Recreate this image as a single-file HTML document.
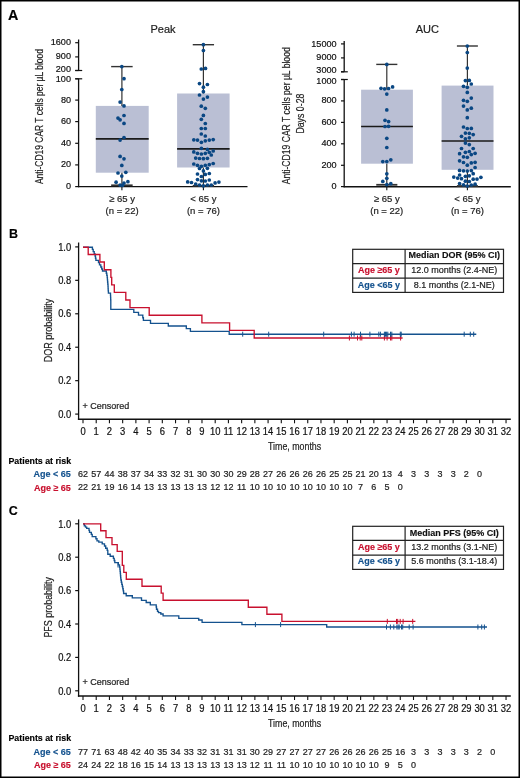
<!DOCTYPE html>
<html><head><meta charset="utf-8"><title>Figure</title>
<style>
html,body{margin:0;padding:0;background:#fff;}
body{width:520px;height:778px;overflow:hidden;}
svg{display:block;font-family:"Liberation Sans", sans-serif;will-change:transform;}
</style></head>
<body>
<svg width="520" height="778" viewBox="0 0 520 778">
<rect width="520" height="778" fill="#fff"/>
<text x="8.0" y="19.6" font-size="14.3" text-anchor="start" fill="#000" stroke="#000" stroke-width="0.15" font-weight="bold" >A</text>
<text x="163" y="33" font-size="11" text-anchor="middle" fill="#222" stroke="#222" stroke-width="0.2" >Peak</text>
<line x1="78.6" y1="39.5" x2="78.6" y2="70.5" stroke="#111" stroke-width="1.3"/>
<line x1="78.6" y1="78.8" x2="78.6" y2="187.2" stroke="#111" stroke-width="1.3"/>
<line x1="75.2" y1="70.5" x2="82.2" y2="70.5" stroke="#111" stroke-width="1.2"/>
<line x1="75.2" y1="78.8" x2="82.2" y2="78.8" stroke="#111" stroke-width="1.2"/>
<line x1="75.2" y1="42.7" x2="78.6" y2="42.7" stroke="#111" stroke-width="1.2"/>
<text x="71.0" y="45.2" font-size="9.6" text-anchor="end" fill="#111" stroke="#111" stroke-width="0.2" textLength="20.24" lengthAdjust="spacingAndGlyphs" >1600</text>
<line x1="75.2" y1="56.9" x2="78.6" y2="56.9" stroke="#111" stroke-width="1.2"/>
<text x="71.0" y="59.4" font-size="9.6" text-anchor="end" fill="#111" stroke="#111" stroke-width="0.2" textLength="15.18" lengthAdjust="spacingAndGlyphs" >900</text>
<line x1="75.2" y1="70.5" x2="78.6" y2="70.5" stroke="#111" stroke-width="1.2"/>
<text x="71.0" y="71.5" font-size="9.6" text-anchor="end" fill="#111" stroke="#111" stroke-width="0.2" textLength="15.18" lengthAdjust="spacingAndGlyphs" >200</text>
<line x1="75.2" y1="78.8" x2="78.6" y2="78.8" stroke="#111" stroke-width="1.2"/>
<text x="71.0" y="82.3" font-size="9.6" text-anchor="end" fill="#111" stroke="#111" stroke-width="0.2" textLength="15.18" lengthAdjust="spacingAndGlyphs" >100</text>
<line x1="75.2" y1="100.1" x2="78.6" y2="100.1" stroke="#111" stroke-width="1.2"/>
<text x="71.0" y="102.6" font-size="9.6" text-anchor="end" fill="#111" stroke="#111" stroke-width="0.2" textLength="10.12" lengthAdjust="spacingAndGlyphs" >80</text>
<line x1="75.2" y1="121.6" x2="78.6" y2="121.6" stroke="#111" stroke-width="1.2"/>
<text x="71.0" y="124.1" font-size="9.6" text-anchor="end" fill="#111" stroke="#111" stroke-width="0.2" textLength="10.12" lengthAdjust="spacingAndGlyphs" >60</text>
<line x1="75.2" y1="143.3" x2="78.6" y2="143.3" stroke="#111" stroke-width="1.2"/>
<text x="71.0" y="145.8" font-size="9.6" text-anchor="end" fill="#111" stroke="#111" stroke-width="0.2" textLength="10.12" lengthAdjust="spacingAndGlyphs" >40</text>
<line x1="75.2" y1="164.9" x2="78.6" y2="164.9" stroke="#111" stroke-width="1.2"/>
<text x="71.0" y="167.4" font-size="9.6" text-anchor="end" fill="#111" stroke="#111" stroke-width="0.2" textLength="10.12" lengthAdjust="spacingAndGlyphs" >20</text>
<line x1="75.2" y1="186.6" x2="78.6" y2="186.6" stroke="#111" stroke-width="1.2"/>
<text x="71.0" y="189.1" font-size="9.6" text-anchor="end" fill="#111" stroke="#111" stroke-width="0.2" textLength="5.06" lengthAdjust="spacingAndGlyphs" >0</text>
<line x1="78.0" y1="186.6" x2="247.5" y2="186.6" stroke="#111" stroke-width="1.4"/>
<line x1="121.9" y1="186.6" x2="121.9" y2="190.2" stroke="#111" stroke-width="1.1"/>
<line x1="203.4" y1="186.6" x2="203.4" y2="190.2" stroke="#111" stroke-width="1.1"/>
<text x="43.5" y="116.6" font-size="10.5" text-anchor="middle" fill="#222" stroke="#222" stroke-width="0.2" textLength="135" lengthAdjust="spacingAndGlyphs" transform="rotate(-90 43.5 116.6)" >Anti-CD19 CAR T cells per µL blood</text>
<text x="122.1" y="201.7" font-size="9.5" text-anchor="middle" fill="#222" stroke="#222" stroke-width="0.2" >≥ 65 y</text>
<text x="122.1" y="213.5" font-size="9.5" text-anchor="middle" fill="#222" stroke="#222" stroke-width="0.2" >(n = 22)</text>
<text x="203.4" y="201.7" font-size="9.5" text-anchor="middle" fill="#222" stroke="#222" stroke-width="0.2" >&lt; 65 y</text>
<text x="203.4" y="213.5" font-size="9.5" text-anchor="middle" fill="#222" stroke="#222" stroke-width="0.2" >(n = 76)</text>
<rect x="95.8" y="105.9" width="52.89999999999999" height="66.79999999999998" fill="#babfd4"/>
<line x1="121.9" y1="66.6" x2="121.9" y2="105.9" stroke="#333" stroke-width="1.2"/>
<line x1="121.9" y1="172.7" x2="121.9" y2="185.3" stroke="#333" stroke-width="1.2"/>
<line x1="111.15" y1="66.6" x2="132.65" y2="66.6" stroke="#333" stroke-width="1.4"/>
<line x1="111.15" y1="185.3" x2="132.65" y2="185.3" stroke="#333" stroke-width="1.8"/>
<line x1="95.8" y1="138.9" x2="148.7" y2="138.9" stroke="#1a1a1a" stroke-width="1.6"/>
<circle cx="121.8" cy="66.6" r="1.85" fill="#0a4783"/>
<circle cx="124.0" cy="78.7" r="1.85" fill="#0a4783"/>
<circle cx="121.8" cy="89.5" r="1.85" fill="#0a4783"/>
<circle cx="120.1" cy="102.1" r="1.85" fill="#0a4783"/>
<circle cx="124.0" cy="105.9" r="1.85" fill="#0a4783"/>
<circle cx="118" cy="118.1" r="1.85" fill="#0a4783"/>
<circle cx="120.1" cy="119.8" r="1.85" fill="#0a4783"/>
<circle cx="124" cy="115.5" r="1.85" fill="#0a4783"/>
<circle cx="124" cy="123.4" r="1.85" fill="#0a4783"/>
<circle cx="124" cy="137.5" r="1.85" fill="#0a4783"/>
<circle cx="120.1" cy="140.1" r="1.85" fill="#0a4783"/>
<circle cx="120.1" cy="156.4" r="1.85" fill="#0a4783"/>
<circle cx="124" cy="158.8" r="1.85" fill="#0a4783"/>
<circle cx="121.8" cy="165.4" r="1.85" fill="#0a4783"/>
<circle cx="118" cy="173" r="1.85" fill="#0a4783"/>
<circle cx="125.8" cy="172.3" r="1.85" fill="#0a4783"/>
<circle cx="121.8" cy="176.1" r="1.85" fill="#0a4783"/>
<circle cx="116.1" cy="182.2" r="1.85" fill="#0a4783"/>
<circle cx="124" cy="183" r="1.85" fill="#0a4783"/>
<circle cx="127.9" cy="181.7" r="1.85" fill="#0a4783"/>
<circle cx="120.1" cy="185.1" r="1.85" fill="#0a4783"/>
<circle cx="122.5" cy="185.3" r="1.85" fill="#0a4783"/>
<rect x="177.1" y="93.5" width="52.5" height="74.0" fill="#babfd4"/>
<line x1="203.4" y1="44.7" x2="203.4" y2="93.5" stroke="#333" stroke-width="1.2"/>
<line x1="203.4" y1="167.5" x2="203.4" y2="185.8" stroke="#333" stroke-width="1.2"/>
<line x1="192.75" y1="44.7" x2="214.05" y2="44.7" stroke="#333" stroke-width="1.4"/>
<line x1="192.75" y1="185.8" x2="214.05" y2="185.8" stroke="#333" stroke-width="1.8"/>
<line x1="177.1" y1="148.9" x2="229.6" y2="148.9" stroke="#1a1a1a" stroke-width="1.6"/>
<circle cx="203.4" cy="44.7" r="1.85" fill="#0a4783"/>
<circle cx="203.4" cy="50.5" r="1.85" fill="#0a4783"/>
<circle cx="201.3" cy="69.0" r="1.85" fill="#0a4783"/>
<circle cx="205.5" cy="68.4" r="1.85" fill="#0a4783"/>
<circle cx="199.5" cy="83.6" r="1.85" fill="#0a4783"/>
<circle cx="207.4" cy="84.5" r="1.85" fill="#0a4783"/>
<circle cx="203.4" cy="87.2" r="1.85" fill="#0a4783"/>
<circle cx="203.4" cy="91.7" r="1.85" fill="#0a4783"/>
<circle cx="199.5" cy="95.0" r="1.85" fill="#0a4783"/>
<circle cx="207.4" cy="97.1" r="1.85" fill="#0a4783"/>
<circle cx="203.4" cy="99.1" r="1.85" fill="#0a4783"/>
<circle cx="201.3" cy="106.2" r="1.85" fill="#0a4783"/>
<circle cx="205.3" cy="108.3" r="1.85" fill="#0a4783"/>
<circle cx="203.4" cy="115.4" r="1.85" fill="#0a4783"/>
<circle cx="201.3" cy="119.3" r="1.85" fill="#0a4783"/>
<circle cx="205.3" cy="123.5" r="1.85" fill="#0a4783"/>
<circle cx="201.3" cy="128.5" r="1.85" fill="#0a4783"/>
<circle cx="205.3" cy="128.5" r="1.85" fill="#0a4783"/>
<circle cx="201.3" cy="134.0" r="1.85" fill="#0a4783"/>
<circle cx="205.3" cy="136.0" r="1.85" fill="#0a4783"/>
<circle cx="193.8" cy="139.8" r="1.85" fill="#0a4783"/>
<circle cx="197.5" cy="140.1" r="1.85" fill="#0a4783"/>
<circle cx="201.4" cy="142.3" r="1.85" fill="#0a4783"/>
<circle cx="205.3" cy="140.8" r="1.85" fill="#0a4783"/>
<circle cx="209.3" cy="140.1" r="1.85" fill="#0a4783"/>
<circle cx="213.2" cy="139.6" r="1.85" fill="#0a4783"/>
<circle cx="201.4" cy="148.3" r="1.85" fill="#0a4783"/>
<circle cx="207.4" cy="149.4" r="1.85" fill="#0a4783"/>
<circle cx="213.2" cy="151.0" r="1.85" fill="#0a4783"/>
<circle cx="193.8" cy="151.9" r="1.85" fill="#0a4783"/>
<circle cx="209.3" cy="152.3" r="1.85" fill="#0a4783"/>
<circle cx="197.5" cy="153.3" r="1.85" fill="#0a4783"/>
<circle cx="201.4" cy="154.0" r="1.85" fill="#0a4783"/>
<circle cx="205.3" cy="153.3" r="1.85" fill="#0a4783"/>
<circle cx="211.3" cy="155.0" r="1.85" fill="#0a4783"/>
<circle cx="195.7" cy="158.1" r="1.85" fill="#0a4783"/>
<circle cx="199.5" cy="158.5" r="1.85" fill="#0a4783"/>
<circle cx="203.4" cy="158.7" r="1.85" fill="#0a4783"/>
<circle cx="207.4" cy="158.3" r="1.85" fill="#0a4783"/>
<circle cx="193.8" cy="164.0" r="1.85" fill="#0a4783"/>
<circle cx="197.5" cy="165.3" r="1.85" fill="#0a4783"/>
<circle cx="201.4" cy="166.3" r="1.85" fill="#0a4783"/>
<circle cx="205.3" cy="165.3" r="1.85" fill="#0a4783"/>
<circle cx="209.3" cy="164.6" r="1.85" fill="#0a4783"/>
<circle cx="213.2" cy="163.5" r="1.85" fill="#0a4783"/>
<circle cx="199.5" cy="168.5" r="1.85" fill="#0a4783"/>
<circle cx="207.4" cy="168.3" r="1.85" fill="#0a4783"/>
<circle cx="203.4" cy="170.9" r="1.85" fill="#0a4783"/>
<circle cx="197.5" cy="174.0" r="1.85" fill="#0a4783"/>
<circle cx="205.3" cy="174.4" r="1.85" fill="#0a4783"/>
<circle cx="209.3" cy="173.5" r="1.85" fill="#0a4783"/>
<circle cx="201.4" cy="176.5" r="1.85" fill="#0a4783"/>
<circle cx="197.5" cy="179.6" r="1.85" fill="#0a4783"/>
<circle cx="201.4" cy="180.8" r="1.85" fill="#0a4783"/>
<circle cx="205.3" cy="181.0" r="1.85" fill="#0a4783"/>
<circle cx="209.3" cy="180.0" r="1.85" fill="#0a4783"/>
<circle cx="187.7" cy="181.9" r="1.85" fill="#0a4783"/>
<circle cx="191.5" cy="182.5" r="1.85" fill="#0a4783"/>
<circle cx="195.7" cy="184.0" r="1.85" fill="#0a4783"/>
<circle cx="199.5" cy="185.0" r="1.85" fill="#0a4783"/>
<circle cx="203.4" cy="185.8" r="1.85" fill="#0a4783"/>
<circle cx="207.4" cy="185.0" r="1.85" fill="#0a4783"/>
<circle cx="211.3" cy="185.0" r="1.85" fill="#0a4783"/>
<circle cx="215.1" cy="182.9" r="1.85" fill="#0a4783"/>
<circle cx="218.9" cy="182.1" r="1.85" fill="#0a4783"/>
<text x="427.3" y="33" font-size="11" text-anchor="middle" fill="#222" stroke="#222" stroke-width="0.2" >AUC</text>
<line x1="344.2" y1="40.9" x2="344.2" y2="71.8" stroke="#111" stroke-width="1.3"/>
<line x1="344.2" y1="79.5" x2="344.2" y2="187.2" stroke="#111" stroke-width="1.3"/>
<line x1="341" y1="71.8" x2="347.8" y2="71.8" stroke="#111" stroke-width="1.2"/>
<line x1="341" y1="79.5" x2="347.8" y2="79.5" stroke="#111" stroke-width="1.2"/>
<line x1="341" y1="43.9" x2="344.2" y2="43.9" stroke="#111" stroke-width="1.2"/>
<text x="336.6" y="46.5" font-size="9.6" text-anchor="end" fill="#111" stroke="#111" stroke-width="0.2" textLength="25.3" lengthAdjust="spacingAndGlyphs" >15000</text>
<line x1="341" y1="57.9" x2="344.2" y2="57.9" stroke="#111" stroke-width="1.2"/>
<text x="336.6" y="60.4" font-size="9.6" text-anchor="end" fill="#111" stroke="#111" stroke-width="0.2" textLength="20.24" lengthAdjust="spacingAndGlyphs" >9000</text>
<line x1="341" y1="71.8" x2="344.2" y2="71.8" stroke="#111" stroke-width="1.2"/>
<text x="336.6" y="72.6" font-size="9.6" text-anchor="end" fill="#111" stroke="#111" stroke-width="0.2" textLength="20.24" lengthAdjust="spacingAndGlyphs" >3000</text>
<line x1="341" y1="79.5" x2="344.2" y2="79.5" stroke="#111" stroke-width="1.2"/>
<text x="336.6" y="83.5" font-size="9.6" text-anchor="end" fill="#111" stroke="#111" stroke-width="0.2" textLength="20.24" lengthAdjust="spacingAndGlyphs" >1000</text>
<line x1="341" y1="100.9" x2="344.2" y2="100.9" stroke="#111" stroke-width="1.2"/>
<text x="336.6" y="103.4" font-size="9.6" text-anchor="end" fill="#111" stroke="#111" stroke-width="0.2" textLength="15.18" lengthAdjust="spacingAndGlyphs" >800</text>
<line x1="341" y1="122.4" x2="344.2" y2="122.4" stroke="#111" stroke-width="1.2"/>
<text x="336.6" y="124.9" font-size="9.6" text-anchor="end" fill="#111" stroke="#111" stroke-width="0.2" textLength="15.18" lengthAdjust="spacingAndGlyphs" >600</text>
<line x1="341" y1="143.8" x2="344.2" y2="143.8" stroke="#111" stroke-width="1.2"/>
<text x="336.6" y="146.3" font-size="9.6" text-anchor="end" fill="#111" stroke="#111" stroke-width="0.2" textLength="15.18" lengthAdjust="spacingAndGlyphs" >400</text>
<line x1="341" y1="165.3" x2="344.2" y2="165.3" stroke="#111" stroke-width="1.2"/>
<text x="336.6" y="167.8" font-size="9.6" text-anchor="end" fill="#111" stroke="#111" stroke-width="0.2" textLength="15.18" lengthAdjust="spacingAndGlyphs" >200</text>
<line x1="341" y1="186.6" x2="344.2" y2="186.6" stroke="#111" stroke-width="1.2"/>
<text x="336.6" y="189.1" font-size="9.6" text-anchor="end" fill="#111" stroke="#111" stroke-width="0.2" textLength="5.06" lengthAdjust="spacingAndGlyphs" >0</text>
<line x1="343.59999999999997" y1="186.7" x2="510.8" y2="186.7" stroke="#111" stroke-width="1.4"/>
<line x1="386.8" y1="186.7" x2="386.8" y2="190.2" stroke="#111" stroke-width="1.1"/>
<line x1="467.4" y1="186.7" x2="467.4" y2="190.2" stroke="#111" stroke-width="1.1"/>
<text x="290.4" y="115.8" font-size="10.5" text-anchor="middle" fill="#222" stroke="#222" stroke-width="0.2" textLength="137" lengthAdjust="spacingAndGlyphs" transform="rotate(-90 290.4 115.8)" >Anti-CD19 CAR T cells per µL blood</text>
<text x="303.6" y="113.6" font-size="10.5" text-anchor="middle" fill="#222" stroke="#222" stroke-width="0.2" textLength="40" lengthAdjust="spacingAndGlyphs" transform="rotate(-90 303.6 113.6)" >Days 0-28</text>
<text x="386.8" y="201.7" font-size="9.5" text-anchor="middle" fill="#222" stroke="#222" stroke-width="0.2" >≥ 65 y</text>
<text x="386.8" y="213.5" font-size="9.5" text-anchor="middle" fill="#222" stroke="#222" stroke-width="0.2" >(n = 22)</text>
<text x="467.4" y="201.7" font-size="9.5" text-anchor="middle" fill="#222" stroke="#222" stroke-width="0.2" >&lt; 65 y</text>
<text x="467.4" y="213.5" font-size="9.5" text-anchor="middle" fill="#222" stroke="#222" stroke-width="0.2" >(n = 76)</text>
<rect x="361.1" y="89.7" width="51.799999999999955" height="73.99999999999999" fill="#babfd4"/>
<line x1="386.8" y1="64.4" x2="386.8" y2="89.7" stroke="#333" stroke-width="1.2"/>
<line x1="386.8" y1="163.7" x2="386.8" y2="184.8" stroke="#333" stroke-width="1.2"/>
<line x1="376.25" y1="64.4" x2="397.35" y2="64.4" stroke="#333" stroke-width="1.4"/>
<line x1="376.25" y1="184.8" x2="397.35" y2="184.8" stroke="#333" stroke-width="1.8"/>
<line x1="361.1" y1="126.5" x2="412.9" y2="126.5" stroke="#1a1a1a" stroke-width="1.6"/>
<circle cx="386.8" cy="64.4" r="1.85" fill="#0a4783"/>
<circle cx="381.0" cy="88.3" r="1.85" fill="#0a4783"/>
<circle cx="384.6" cy="88.8" r="1.85" fill="#0a4783"/>
<circle cx="388.6" cy="88.5" r="1.85" fill="#0a4783"/>
<circle cx="392.6" cy="86.9" r="1.85" fill="#0a4783"/>
<circle cx="386.8" cy="94.1" r="1.85" fill="#0a4783"/>
<circle cx="386.8" cy="109.9" r="1.85" fill="#0a4783"/>
<circle cx="385.0" cy="120.3" r="1.85" fill="#0a4783"/>
<circle cx="388.6" cy="121.6" r="1.85" fill="#0a4783"/>
<circle cx="385.0" cy="126.5" r="1.85" fill="#0a4783"/>
<circle cx="388.6" cy="126.3" r="1.85" fill="#0a4783"/>
<circle cx="386.8" cy="138.3" r="1.85" fill="#0a4783"/>
<circle cx="386.8" cy="147.5" r="1.85" fill="#0a4783"/>
<circle cx="382.8" cy="161.6" r="1.85" fill="#0a4783"/>
<circle cx="386.8" cy="161.6" r="1.85" fill="#0a4783"/>
<circle cx="390.8" cy="159.8" r="1.85" fill="#0a4783"/>
<circle cx="386.8" cy="173.8" r="1.85" fill="#0a4783"/>
<circle cx="386.8" cy="178.3" r="1.85" fill="#0a4783"/>
<circle cx="382.8" cy="181.4" r="1.85" fill="#0a4783"/>
<circle cx="390.8" cy="183.7" r="1.85" fill="#0a4783"/>
<circle cx="386.8" cy="184.6" r="1.85" fill="#0a4783"/>
<rect x="441.6" y="85.6" width="51.89999999999998" height="84.20000000000002" fill="#babfd4"/>
<line x1="467.4" y1="46.0" x2="467.4" y2="85.6" stroke="#333" stroke-width="1.2"/>
<line x1="467.4" y1="169.8" x2="467.4" y2="186.0" stroke="#333" stroke-width="1.2"/>
<line x1="456.9" y1="46.0" x2="477.9" y2="46.0" stroke="#333" stroke-width="1.4"/>
<line x1="456.9" y1="186.0" x2="477.9" y2="186.0" stroke="#333" stroke-width="1.8"/>
<line x1="441.6" y1="141.0" x2="493.5" y2="141.0" stroke="#1a1a1a" stroke-width="1.6"/>
<circle cx="467.3" cy="46.0" r="1.85" fill="#0a4783"/>
<circle cx="467.3" cy="52.5" r="1.85" fill="#0a4783"/>
<circle cx="467.3" cy="68.1" r="1.85" fill="#0a4783"/>
<circle cx="465.4" cy="80.6" r="1.85" fill="#0a4783"/>
<circle cx="469.3" cy="80.4" r="1.85" fill="#0a4783"/>
<circle cx="471.3" cy="84.0" r="1.85" fill="#0a4783"/>
<circle cx="463.5" cy="86.3" r="1.85" fill="#0a4783"/>
<circle cx="467.3" cy="87.3" r="1.85" fill="#0a4783"/>
<circle cx="467.3" cy="92.4" r="1.85" fill="#0a4783"/>
<circle cx="471.3" cy="98.1" r="1.85" fill="#0a4783"/>
<circle cx="463.5" cy="100.3" r="1.85" fill="#0a4783"/>
<circle cx="467.3" cy="101.3" r="1.85" fill="#0a4783"/>
<circle cx="463.5" cy="106.1" r="1.85" fill="#0a4783"/>
<circle cx="471.3" cy="108.2" r="1.85" fill="#0a4783"/>
<circle cx="467.3" cy="109.9" r="1.85" fill="#0a4783"/>
<circle cx="467.3" cy="117.7" r="1.85" fill="#0a4783"/>
<circle cx="463.5" cy="127.0" r="1.85" fill="#0a4783"/>
<circle cx="467.3" cy="128.5" r="1.85" fill="#0a4783"/>
<circle cx="471.3" cy="128.4" r="1.85" fill="#0a4783"/>
<circle cx="465.4" cy="133.1" r="1.85" fill="#0a4783"/>
<circle cx="469.3" cy="133.3" r="1.85" fill="#0a4783"/>
<circle cx="473.2" cy="134.6" r="1.85" fill="#0a4783"/>
<circle cx="461.5" cy="136.3" r="1.85" fill="#0a4783"/>
<circle cx="465.4" cy="138.8" r="1.85" fill="#0a4783"/>
<circle cx="469.3" cy="137.8" r="1.85" fill="#0a4783"/>
<circle cx="465.4" cy="143.1" r="1.85" fill="#0a4783"/>
<circle cx="469.3" cy="144.6" r="1.85" fill="#0a4783"/>
<circle cx="461.5" cy="148.5" r="1.85" fill="#0a4783"/>
<circle cx="473.2" cy="148.5" r="1.85" fill="#0a4783"/>
<circle cx="465.4" cy="152.3" r="1.85" fill="#0a4783"/>
<circle cx="469.3" cy="151.5" r="1.85" fill="#0a4783"/>
<circle cx="459.6" cy="153.7" r="1.85" fill="#0a4783"/>
<circle cx="471.3" cy="154.6" r="1.85" fill="#0a4783"/>
<circle cx="475.1" cy="153.3" r="1.85" fill="#0a4783"/>
<circle cx="463.5" cy="156.8" r="1.85" fill="#0a4783"/>
<circle cx="467.3" cy="157.3" r="1.85" fill="#0a4783"/>
<circle cx="459.6" cy="160.8" r="1.85" fill="#0a4783"/>
<circle cx="463.5" cy="162.5" r="1.85" fill="#0a4783"/>
<circle cx="471.3" cy="162.9" r="1.85" fill="#0a4783"/>
<circle cx="475.1" cy="162.3" r="1.85" fill="#0a4783"/>
<circle cx="467.3" cy="165.2" r="1.85" fill="#0a4783"/>
<circle cx="475.1" cy="167.5" r="1.85" fill="#0a4783"/>
<circle cx="459.6" cy="170.4" r="1.85" fill="#0a4783"/>
<circle cx="463.5" cy="170.8" r="1.85" fill="#0a4783"/>
<circle cx="467.3" cy="171.0" r="1.85" fill="#0a4783"/>
<circle cx="471.3" cy="170.6" r="1.85" fill="#0a4783"/>
<circle cx="473.2" cy="173.7" r="1.85" fill="#0a4783"/>
<circle cx="459.6" cy="175.0" r="1.85" fill="#0a4783"/>
<circle cx="465.4" cy="176.3" r="1.85" fill="#0a4783"/>
<circle cx="469.3" cy="175.8" r="1.85" fill="#0a4783"/>
<circle cx="453.8" cy="177.1" r="1.85" fill="#0a4783"/>
<circle cx="457.7" cy="178.1" r="1.85" fill="#0a4783"/>
<circle cx="461.5" cy="178.7" r="1.85" fill="#0a4783"/>
<circle cx="473.2" cy="179.2" r="1.85" fill="#0a4783"/>
<circle cx="477.0" cy="179.1" r="1.85" fill="#0a4783"/>
<circle cx="480.9" cy="177.3" r="1.85" fill="#0a4783"/>
<circle cx="465.4" cy="181.2" r="1.85" fill="#0a4783"/>
<circle cx="469.3" cy="181.5" r="1.85" fill="#0a4783"/>
<circle cx="459.6" cy="183.5" r="1.85" fill="#0a4783"/>
<circle cx="463.5" cy="184.8" r="1.85" fill="#0a4783"/>
<circle cx="467.3" cy="186.0" r="1.85" fill="#0a4783"/>
<circle cx="471.3" cy="185.0" r="1.85" fill="#0a4783"/>
<circle cx="475.1" cy="184.2" r="1.85" fill="#0a4783"/>
<text x="9.0" y="238.2" font-size="12.5" text-anchor="start" fill="#000" stroke="#000" stroke-width="0.15" font-weight="bold" >B</text>
<line x1="78.6" y1="242.5" x2="78.6" y2="420.0" stroke="#111" stroke-width="1.3"/>
<line x1="75.2" y1="414.1" x2="78.6" y2="414.1" stroke="#111" stroke-width="1.2"/>
<text x="71.2" y="417.8" font-size="10.0" text-anchor="end" fill="#111" stroke="#111" stroke-width="0.2" textLength="13.07" lengthAdjust="spacingAndGlyphs" >0.0</text>
<line x1="75.2" y1="380.66" x2="78.6" y2="380.66" stroke="#111" stroke-width="1.2"/>
<text x="71.2" y="384.36" font-size="10.0" text-anchor="end" fill="#111" stroke="#111" stroke-width="0.2" textLength="13.07" lengthAdjust="spacingAndGlyphs" >0.2</text>
<line x1="75.2" y1="347.22" x2="78.6" y2="347.22" stroke="#111" stroke-width="1.2"/>
<text x="71.2" y="350.92" font-size="10.0" text-anchor="end" fill="#111" stroke="#111" stroke-width="0.2" textLength="13.07" lengthAdjust="spacingAndGlyphs" >0.4</text>
<line x1="75.2" y1="313.78" x2="78.6" y2="313.78" stroke="#111" stroke-width="1.2"/>
<text x="71.2" y="317.47999999999996" font-size="10.0" text-anchor="end" fill="#111" stroke="#111" stroke-width="0.2" textLength="13.07" lengthAdjust="spacingAndGlyphs" >0.6</text>
<line x1="75.2" y1="280.34000000000003" x2="78.6" y2="280.34000000000003" stroke="#111" stroke-width="1.2"/>
<text x="71.2" y="284.04" font-size="10.0" text-anchor="end" fill="#111" stroke="#111" stroke-width="0.2" textLength="13.07" lengthAdjust="spacingAndGlyphs" >0.8</text>
<line x1="75.2" y1="246.9" x2="78.6" y2="246.9" stroke="#111" stroke-width="1.2"/>
<text x="71.2" y="250.6" font-size="10.0" text-anchor="end" fill="#111" stroke="#111" stroke-width="0.2" textLength="13.07" lengthAdjust="spacingAndGlyphs" >1.0</text>
<line x1="77.9" y1="419.3" x2="510.8" y2="419.3" stroke="#111" stroke-width="1.4"/>
<line x1="83.0" y1="419.3" x2="83.0" y2="423.3" stroke="#111" stroke-width="1.1"/>
<text x="83.0" y="435.2" font-size="10.0" text-anchor="middle" fill="#111" stroke="#111" stroke-width="0.2" textLength="5.23" lengthAdjust="spacingAndGlyphs" >0</text>
<line x1="96.22" y1="419.3" x2="96.22" y2="423.3" stroke="#111" stroke-width="1.1"/>
<text x="96.22" y="435.2" font-size="10.0" text-anchor="middle" fill="#111" stroke="#111" stroke-width="0.2" textLength="5.23" lengthAdjust="spacingAndGlyphs" >1</text>
<line x1="109.44" y1="419.3" x2="109.44" y2="423.3" stroke="#111" stroke-width="1.1"/>
<text x="109.44" y="435.2" font-size="10.0" text-anchor="middle" fill="#111" stroke="#111" stroke-width="0.2" textLength="5.23" lengthAdjust="spacingAndGlyphs" >2</text>
<line x1="122.66" y1="419.3" x2="122.66" y2="423.3" stroke="#111" stroke-width="1.1"/>
<text x="122.66" y="435.2" font-size="10.0" text-anchor="middle" fill="#111" stroke="#111" stroke-width="0.2" textLength="5.23" lengthAdjust="spacingAndGlyphs" >3</text>
<line x1="135.88" y1="419.3" x2="135.88" y2="423.3" stroke="#111" stroke-width="1.1"/>
<text x="135.88" y="435.2" font-size="10.0" text-anchor="middle" fill="#111" stroke="#111" stroke-width="0.2" textLength="5.23" lengthAdjust="spacingAndGlyphs" >4</text>
<line x1="149.10000000000002" y1="419.3" x2="149.10000000000002" y2="423.3" stroke="#111" stroke-width="1.1"/>
<text x="149.10000000000002" y="435.2" font-size="10.0" text-anchor="middle" fill="#111" stroke="#111" stroke-width="0.2" textLength="5.23" lengthAdjust="spacingAndGlyphs" >5</text>
<line x1="162.32" y1="419.3" x2="162.32" y2="423.3" stroke="#111" stroke-width="1.1"/>
<text x="162.32" y="435.2" font-size="10.0" text-anchor="middle" fill="#111" stroke="#111" stroke-width="0.2" textLength="5.23" lengthAdjust="spacingAndGlyphs" >6</text>
<line x1="175.54000000000002" y1="419.3" x2="175.54000000000002" y2="423.3" stroke="#111" stroke-width="1.1"/>
<text x="175.54000000000002" y="435.2" font-size="10.0" text-anchor="middle" fill="#111" stroke="#111" stroke-width="0.2" textLength="5.23" lengthAdjust="spacingAndGlyphs" >7</text>
<line x1="188.76" y1="419.3" x2="188.76" y2="423.3" stroke="#111" stroke-width="1.1"/>
<text x="188.76" y="435.2" font-size="10.0" text-anchor="middle" fill="#111" stroke="#111" stroke-width="0.2" textLength="5.23" lengthAdjust="spacingAndGlyphs" >8</text>
<line x1="201.98000000000002" y1="419.3" x2="201.98000000000002" y2="423.3" stroke="#111" stroke-width="1.1"/>
<text x="201.98000000000002" y="435.2" font-size="10.0" text-anchor="middle" fill="#111" stroke="#111" stroke-width="0.2" textLength="5.23" lengthAdjust="spacingAndGlyphs" >9</text>
<line x1="215.20000000000002" y1="419.3" x2="215.20000000000002" y2="423.3" stroke="#111" stroke-width="1.1"/>
<text x="215.20000000000002" y="435.2" font-size="10.0" text-anchor="middle" fill="#111" stroke="#111" stroke-width="0.2" textLength="10.45" lengthAdjust="spacingAndGlyphs" >10</text>
<line x1="228.42000000000002" y1="419.3" x2="228.42000000000002" y2="423.3" stroke="#111" stroke-width="1.1"/>
<text x="228.42000000000002" y="435.2" font-size="10.0" text-anchor="middle" fill="#111" stroke="#111" stroke-width="0.2" textLength="9.76" lengthAdjust="spacingAndGlyphs" >11</text>
<line x1="241.64000000000001" y1="419.3" x2="241.64000000000001" y2="423.3" stroke="#111" stroke-width="1.1"/>
<text x="241.64000000000001" y="435.2" font-size="10.0" text-anchor="middle" fill="#111" stroke="#111" stroke-width="0.2" textLength="10.45" lengthAdjust="spacingAndGlyphs" >12</text>
<line x1="254.86" y1="419.3" x2="254.86" y2="423.3" stroke="#111" stroke-width="1.1"/>
<text x="254.86" y="435.2" font-size="10.0" text-anchor="middle" fill="#111" stroke="#111" stroke-width="0.2" textLength="10.45" lengthAdjust="spacingAndGlyphs" >13</text>
<line x1="268.08000000000004" y1="419.3" x2="268.08000000000004" y2="423.3" stroke="#111" stroke-width="1.1"/>
<text x="268.08000000000004" y="435.2" font-size="10.0" text-anchor="middle" fill="#111" stroke="#111" stroke-width="0.2" textLength="10.45" lengthAdjust="spacingAndGlyphs" >14</text>
<line x1="281.3" y1="419.3" x2="281.3" y2="423.3" stroke="#111" stroke-width="1.1"/>
<text x="281.3" y="435.2" font-size="10.0" text-anchor="middle" fill="#111" stroke="#111" stroke-width="0.2" textLength="10.45" lengthAdjust="spacingAndGlyphs" >15</text>
<line x1="294.52" y1="419.3" x2="294.52" y2="423.3" stroke="#111" stroke-width="1.1"/>
<text x="294.52" y="435.2" font-size="10.0" text-anchor="middle" fill="#111" stroke="#111" stroke-width="0.2" textLength="10.45" lengthAdjust="spacingAndGlyphs" >16</text>
<line x1="307.74" y1="419.3" x2="307.74" y2="423.3" stroke="#111" stroke-width="1.1"/>
<text x="307.74" y="435.2" font-size="10.0" text-anchor="middle" fill="#111" stroke="#111" stroke-width="0.2" textLength="10.45" lengthAdjust="spacingAndGlyphs" >17</text>
<line x1="320.96000000000004" y1="419.3" x2="320.96000000000004" y2="423.3" stroke="#111" stroke-width="1.1"/>
<text x="320.96000000000004" y="435.2" font-size="10.0" text-anchor="middle" fill="#111" stroke="#111" stroke-width="0.2" textLength="10.45" lengthAdjust="spacingAndGlyphs" >18</text>
<line x1="334.18" y1="419.3" x2="334.18" y2="423.3" stroke="#111" stroke-width="1.1"/>
<text x="334.18" y="435.2" font-size="10.0" text-anchor="middle" fill="#111" stroke="#111" stroke-width="0.2" textLength="10.45" lengthAdjust="spacingAndGlyphs" >19</text>
<line x1="347.40000000000003" y1="419.3" x2="347.40000000000003" y2="423.3" stroke="#111" stroke-width="1.1"/>
<text x="347.40000000000003" y="435.2" font-size="10.0" text-anchor="middle" fill="#111" stroke="#111" stroke-width="0.2" textLength="10.45" lengthAdjust="spacingAndGlyphs" >20</text>
<line x1="360.62" y1="419.3" x2="360.62" y2="423.3" stroke="#111" stroke-width="1.1"/>
<text x="360.62" y="435.2" font-size="10.0" text-anchor="middle" fill="#111" stroke="#111" stroke-width="0.2" textLength="10.45" lengthAdjust="spacingAndGlyphs" >21</text>
<line x1="373.84000000000003" y1="419.3" x2="373.84000000000003" y2="423.3" stroke="#111" stroke-width="1.1"/>
<text x="373.84000000000003" y="435.2" font-size="10.0" text-anchor="middle" fill="#111" stroke="#111" stroke-width="0.2" textLength="10.45" lengthAdjust="spacingAndGlyphs" >22</text>
<line x1="387.06" y1="419.3" x2="387.06" y2="423.3" stroke="#111" stroke-width="1.1"/>
<text x="387.06" y="435.2" font-size="10.0" text-anchor="middle" fill="#111" stroke="#111" stroke-width="0.2" textLength="10.45" lengthAdjust="spacingAndGlyphs" >23</text>
<line x1="400.28000000000003" y1="419.3" x2="400.28000000000003" y2="423.3" stroke="#111" stroke-width="1.1"/>
<text x="400.28000000000003" y="435.2" font-size="10.0" text-anchor="middle" fill="#111" stroke="#111" stroke-width="0.2" textLength="10.45" lengthAdjust="spacingAndGlyphs" >24</text>
<line x1="413.5" y1="419.3" x2="413.5" y2="423.3" stroke="#111" stroke-width="1.1"/>
<text x="413.5" y="435.2" font-size="10.0" text-anchor="middle" fill="#111" stroke="#111" stroke-width="0.2" textLength="10.45" lengthAdjust="spacingAndGlyphs" >25</text>
<line x1="426.72" y1="419.3" x2="426.72" y2="423.3" stroke="#111" stroke-width="1.1"/>
<text x="426.72" y="435.2" font-size="10.0" text-anchor="middle" fill="#111" stroke="#111" stroke-width="0.2" textLength="10.45" lengthAdjust="spacingAndGlyphs" >26</text>
<line x1="439.94" y1="419.3" x2="439.94" y2="423.3" stroke="#111" stroke-width="1.1"/>
<text x="439.94" y="435.2" font-size="10.0" text-anchor="middle" fill="#111" stroke="#111" stroke-width="0.2" textLength="10.45" lengthAdjust="spacingAndGlyphs" >27</text>
<line x1="453.16" y1="419.3" x2="453.16" y2="423.3" stroke="#111" stroke-width="1.1"/>
<text x="453.16" y="435.2" font-size="10.0" text-anchor="middle" fill="#111" stroke="#111" stroke-width="0.2" textLength="10.45" lengthAdjust="spacingAndGlyphs" >28</text>
<line x1="466.38" y1="419.3" x2="466.38" y2="423.3" stroke="#111" stroke-width="1.1"/>
<text x="466.38" y="435.2" font-size="10.0" text-anchor="middle" fill="#111" stroke="#111" stroke-width="0.2" textLength="10.45" lengthAdjust="spacingAndGlyphs" >29</text>
<line x1="479.6" y1="419.3" x2="479.6" y2="423.3" stroke="#111" stroke-width="1.1"/>
<text x="479.6" y="435.2" font-size="10.0" text-anchor="middle" fill="#111" stroke="#111" stroke-width="0.2" textLength="10.45" lengthAdjust="spacingAndGlyphs" >30</text>
<line x1="492.82" y1="419.3" x2="492.82" y2="423.3" stroke="#111" stroke-width="1.1"/>
<text x="492.82" y="435.2" font-size="10.0" text-anchor="middle" fill="#111" stroke="#111" stroke-width="0.2" textLength="10.45" lengthAdjust="spacingAndGlyphs" >31</text>
<line x1="506.04" y1="419.3" x2="506.04" y2="423.3" stroke="#111" stroke-width="1.1"/>
<text x="506.04" y="435.2" font-size="10.0" text-anchor="middle" fill="#111" stroke="#111" stroke-width="0.2" textLength="10.45" lengthAdjust="spacingAndGlyphs" >32</text>
<text x="294.6" y="449.5" font-size="10.5" text-anchor="middle" fill="#222" stroke="#222" stroke-width="0.2" textLength="53.2" lengthAdjust="spacingAndGlyphs" >Time, months</text>
<text x="51.9" y="330.5" font-size="10.5" text-anchor="middle" fill="#222" stroke="#222" stroke-width="0.2" textLength="63.5" lengthAdjust="spacingAndGlyphs" transform="rotate(-90 51.9 330.5)" >DOR probability</text>
<text x="82.6" y="408.6" font-size="9" text-anchor="start" fill="#222" stroke="#222" stroke-width="0.2" >+ Censored</text>
<path d="M83,247.2 H92.4 V249.4 H93.2 V251.6 H94.2 V253.8 H95.1 V256 H95.5 V258.2 H95.9 V260.4 H98.5 V262.6 H99.5 V264.8 H100.8 V267 H101.7 V269 H102.5 V271 H106.3 V273.2 H106.8 V275.4 H107.2 V277.6 H107.4 V279.8 H107.6 V282 H107.8 V284.2 H108 V286.4 H108.1 V288.6 H108.2 V290.8 H108.4 V293.1 H110.5 V295.3 H110.6 V297.5 H110.7 V299.7 H110.8 V309.3 H133.8 V312.3 H138.5 V315.1 H142.8 V317.7 H143.4 V320.3 H150.5 V323.4 H168.3 V326 H186.3 V328.6 H190.4 V331.3 H229.2 V334.2 H476.3" fill="none" stroke="#14528e" stroke-width="1.35" stroke-linejoin="miter"/>
<path d="M83,247.2 H88.2 V254.5 H99.9 V262 H104.3 V269.7 H110.9 V277.3 H111.7 V284.9 H114.3 V292.4 H125.8 V300 H130 V307.6 H149.2 V315.2 H201.9 V322.8 H229.6 V330.4 H254.2 V338 H402.6" fill="none" stroke="#c8102e" stroke-width="1.35" stroke-linejoin="miter"/>
<line x1="349.4" y1="335.5" x2="349.4" y2="340.5" stroke="#c8102e" stroke-width="1.0"/>
<line x1="357.5" y1="335.5" x2="357.5" y2="340.5" stroke="#c8102e" stroke-width="1.0"/>
<line x1="360.2" y1="335.5" x2="360.2" y2="340.5" stroke="#c8102e" stroke-width="1.0"/>
<line x1="361.8" y1="335.5" x2="361.8" y2="340.5" stroke="#c8102e" stroke-width="1.0"/>
<line x1="384.4" y1="335.5" x2="384.4" y2="340.5" stroke="#c8102e" stroke-width="1.0"/>
<line x1="387.1" y1="335.5" x2="387.1" y2="340.5" stroke="#c8102e" stroke-width="1.0"/>
<line x1="390.5" y1="335.5" x2="390.5" y2="340.5" stroke="#c8102e" stroke-width="1.0"/>
<line x1="391.8" y1="335.5" x2="391.8" y2="340.5" stroke="#c8102e" stroke-width="1.0"/>
<line x1="400.6" y1="335.5" x2="400.6" y2="340.5" stroke="#c8102e" stroke-width="1.0"/>
<line x1="242.7" y1="331.7" x2="242.7" y2="336.7" stroke="#14528e" stroke-width="1.0"/>
<line x1="268.7" y1="331.7" x2="268.7" y2="336.7" stroke="#14528e" stroke-width="1.0"/>
<line x1="323.7" y1="331.7" x2="323.7" y2="336.7" stroke="#14528e" stroke-width="1.0"/>
<line x1="351.4" y1="331.7" x2="351.4" y2="336.7" stroke="#14528e" stroke-width="1.0"/>
<line x1="354.1" y1="331.7" x2="354.1" y2="336.7" stroke="#14528e" stroke-width="1.0"/>
<line x1="360.5" y1="331.7" x2="360.5" y2="336.7" stroke="#14528e" stroke-width="1.0"/>
<line x1="369.9" y1="331.7" x2="369.9" y2="336.7" stroke="#14528e" stroke-width="1.0"/>
<line x1="378.8" y1="331.7" x2="378.8" y2="336.7" stroke="#14528e" stroke-width="1.0"/>
<line x1="380.4" y1="331.7" x2="380.4" y2="336.7" stroke="#14528e" stroke-width="1.0"/>
<line x1="384.4" y1="331.7" x2="384.4" y2="336.7" stroke="#14528e" stroke-width="1.0"/>
<line x1="385.5" y1="331.7" x2="385.5" y2="336.7" stroke="#14528e" stroke-width="1.0"/>
<line x1="386.6" y1="331.7" x2="386.6" y2="336.7" stroke="#14528e" stroke-width="1.0"/>
<line x1="387.8" y1="331.7" x2="387.8" y2="336.7" stroke="#14528e" stroke-width="1.0"/>
<line x1="390.5" y1="331.7" x2="390.5" y2="336.7" stroke="#14528e" stroke-width="1.0"/>
<line x1="391.8" y1="331.7" x2="391.8" y2="336.7" stroke="#14528e" stroke-width="1.0"/>
<line x1="400.3" y1="331.7" x2="400.3" y2="336.7" stroke="#14528e" stroke-width="1.0"/>
<line x1="401.2" y1="331.7" x2="401.2" y2="336.7" stroke="#14528e" stroke-width="1.0"/>
<line x1="464.2" y1="331.7" x2="464.2" y2="336.7" stroke="#14528e" stroke-width="1.0"/>
<line x1="470.3" y1="331.7" x2="470.3" y2="336.7" stroke="#14528e" stroke-width="1.0"/>
<line x1="473.7" y1="331.7" x2="473.7" y2="336.7" stroke="#14528e" stroke-width="1.0"/>
<rect x="352.7" y="249.3" width="150.8" height="43.099999999999966" fill="#fff" stroke="#222" stroke-width="1.2"/>
<line x1="352.7" y1="263.6" x2="503.5" y2="263.6" stroke="#222" stroke-width="1.2"/>
<line x1="352.7" y1="278.1" x2="503.5" y2="278.1" stroke="#222" stroke-width="1.2"/>
<line x1="405.1" y1="249.3" x2="405.1" y2="292.4" stroke="#222" stroke-width="1.2"/>
<text x="454.3" y="258.4" font-size="9" text-anchor="middle" fill="#111" stroke="#111" stroke-width="0.15" font-weight="bold" >Median DOR (95% CI)</text>
<text x="454.3" y="273.3" font-size="9" text-anchor="middle" fill="#222" stroke="#222" stroke-width="0.2" >12.0 months (2.4-NE)</text>
<text x="454.3" y="287.7" font-size="9" text-anchor="middle" fill="#222" stroke="#222" stroke-width="0.2" >8.1 months (2.1-NE)</text>
<text x="378.9" y="273.3" font-size="9" text-anchor="middle" fill="#c8102e" stroke="#c8102e" stroke-width="0.15" font-weight="bold" >Age ≥65 y</text>
<text x="378.9" y="287.7" font-size="9" text-anchor="middle" fill="#14528e" stroke="#14528e" stroke-width="0.15" font-weight="bold" >Age &lt;65 y</text>
<text x="8.5" y="463.6" font-size="8.8" text-anchor="start" fill="#000" stroke="#000" stroke-width="0.15" font-weight="bold" >Patients at risk</text>
<text x="70.9" y="477.40000000000003" font-size="9" text-anchor="end" fill="#14528e" stroke="#14528e" stroke-width="0.15" font-weight="bold" >Age &lt; 65</text>
<text x="70.9" y="490.70000000000005" font-size="9" text-anchor="end" fill="#c8102e" stroke="#c8102e" stroke-width="0.15" font-weight="bold" >Age ≥ 65</text>
<text x="83.0" y="476.9" font-size="9" text-anchor="middle" fill="#222" stroke="#222" stroke-width="0.2" >62</text>
<text x="96.22" y="476.9" font-size="9" text-anchor="middle" fill="#222" stroke="#222" stroke-width="0.2" >57</text>
<text x="109.44" y="476.9" font-size="9" text-anchor="middle" fill="#222" stroke="#222" stroke-width="0.2" >44</text>
<text x="122.66" y="476.9" font-size="9" text-anchor="middle" fill="#222" stroke="#222" stroke-width="0.2" >38</text>
<text x="135.88" y="476.9" font-size="9" text-anchor="middle" fill="#222" stroke="#222" stroke-width="0.2" >37</text>
<text x="149.10000000000002" y="476.9" font-size="9" text-anchor="middle" fill="#222" stroke="#222" stroke-width="0.2" >34</text>
<text x="162.32" y="476.9" font-size="9" text-anchor="middle" fill="#222" stroke="#222" stroke-width="0.2" >33</text>
<text x="175.54000000000002" y="476.9" font-size="9" text-anchor="middle" fill="#222" stroke="#222" stroke-width="0.2" >32</text>
<text x="188.76" y="476.9" font-size="9" text-anchor="middle" fill="#222" stroke="#222" stroke-width="0.2" >31</text>
<text x="201.98000000000002" y="476.9" font-size="9" text-anchor="middle" fill="#222" stroke="#222" stroke-width="0.2" >30</text>
<text x="215.20000000000002" y="476.9" font-size="9" text-anchor="middle" fill="#222" stroke="#222" stroke-width="0.2" >30</text>
<text x="228.42000000000002" y="476.9" font-size="9" text-anchor="middle" fill="#222" stroke="#222" stroke-width="0.2" >30</text>
<text x="241.64000000000001" y="476.9" font-size="9" text-anchor="middle" fill="#222" stroke="#222" stroke-width="0.2" >29</text>
<text x="254.86" y="476.9" font-size="9" text-anchor="middle" fill="#222" stroke="#222" stroke-width="0.2" >28</text>
<text x="268.08000000000004" y="476.9" font-size="9" text-anchor="middle" fill="#222" stroke="#222" stroke-width="0.2" >27</text>
<text x="281.3" y="476.9" font-size="9" text-anchor="middle" fill="#222" stroke="#222" stroke-width="0.2" >26</text>
<text x="294.52" y="476.9" font-size="9" text-anchor="middle" fill="#222" stroke="#222" stroke-width="0.2" >26</text>
<text x="307.74" y="476.9" font-size="9" text-anchor="middle" fill="#222" stroke="#222" stroke-width="0.2" >26</text>
<text x="320.96000000000004" y="476.9" font-size="9" text-anchor="middle" fill="#222" stroke="#222" stroke-width="0.2" >26</text>
<text x="334.18" y="476.9" font-size="9" text-anchor="middle" fill="#222" stroke="#222" stroke-width="0.2" >25</text>
<text x="347.40000000000003" y="476.9" font-size="9" text-anchor="middle" fill="#222" stroke="#222" stroke-width="0.2" >25</text>
<text x="360.62" y="476.9" font-size="9" text-anchor="middle" fill="#222" stroke="#222" stroke-width="0.2" >21</text>
<text x="373.84000000000003" y="476.9" font-size="9" text-anchor="middle" fill="#222" stroke="#222" stroke-width="0.2" >20</text>
<text x="387.06" y="476.9" font-size="9" text-anchor="middle" fill="#222" stroke="#222" stroke-width="0.2" >13</text>
<text x="400.28000000000003" y="476.9" font-size="9" text-anchor="middle" fill="#222" stroke="#222" stroke-width="0.2" >4</text>
<text x="413.5" y="476.9" font-size="9" text-anchor="middle" fill="#222" stroke="#222" stroke-width="0.2" >3</text>
<text x="426.72" y="476.9" font-size="9" text-anchor="middle" fill="#222" stroke="#222" stroke-width="0.2" >3</text>
<text x="439.94" y="476.9" font-size="9" text-anchor="middle" fill="#222" stroke="#222" stroke-width="0.2" >3</text>
<text x="453.16" y="476.9" font-size="9" text-anchor="middle" fill="#222" stroke="#222" stroke-width="0.2" >3</text>
<text x="466.38" y="476.9" font-size="9" text-anchor="middle" fill="#222" stroke="#222" stroke-width="0.2" >2</text>
<text x="479.6" y="476.9" font-size="9" text-anchor="middle" fill="#222" stroke="#222" stroke-width="0.2" >0</text>
<text x="83.0" y="490.2" font-size="9" text-anchor="middle" fill="#222" stroke="#222" stroke-width="0.2" >22</text>
<text x="96.22" y="490.2" font-size="9" text-anchor="middle" fill="#222" stroke="#222" stroke-width="0.2" >21</text>
<text x="109.44" y="490.2" font-size="9" text-anchor="middle" fill="#222" stroke="#222" stroke-width="0.2" >19</text>
<text x="122.66" y="490.2" font-size="9" text-anchor="middle" fill="#222" stroke="#222" stroke-width="0.2" >16</text>
<text x="135.88" y="490.2" font-size="9" text-anchor="middle" fill="#222" stroke="#222" stroke-width="0.2" >14</text>
<text x="149.10000000000002" y="490.2" font-size="9" text-anchor="middle" fill="#222" stroke="#222" stroke-width="0.2" >13</text>
<text x="162.32" y="490.2" font-size="9" text-anchor="middle" fill="#222" stroke="#222" stroke-width="0.2" >13</text>
<text x="175.54000000000002" y="490.2" font-size="9" text-anchor="middle" fill="#222" stroke="#222" stroke-width="0.2" >13</text>
<text x="188.76" y="490.2" font-size="9" text-anchor="middle" fill="#222" stroke="#222" stroke-width="0.2" >13</text>
<text x="201.98000000000002" y="490.2" font-size="9" text-anchor="middle" fill="#222" stroke="#222" stroke-width="0.2" >13</text>
<text x="215.20000000000002" y="490.2" font-size="9" text-anchor="middle" fill="#222" stroke="#222" stroke-width="0.2" >12</text>
<text x="228.42000000000002" y="490.2" font-size="9" text-anchor="middle" fill="#222" stroke="#222" stroke-width="0.2" >12</text>
<text x="241.64000000000001" y="490.2" font-size="9" text-anchor="middle" fill="#222" stroke="#222" stroke-width="0.2" >11</text>
<text x="254.86" y="490.2" font-size="9" text-anchor="middle" fill="#222" stroke="#222" stroke-width="0.2" >10</text>
<text x="268.08000000000004" y="490.2" font-size="9" text-anchor="middle" fill="#222" stroke="#222" stroke-width="0.2" >10</text>
<text x="281.3" y="490.2" font-size="9" text-anchor="middle" fill="#222" stroke="#222" stroke-width="0.2" >10</text>
<text x="294.52" y="490.2" font-size="9" text-anchor="middle" fill="#222" stroke="#222" stroke-width="0.2" >10</text>
<text x="307.74" y="490.2" font-size="9" text-anchor="middle" fill="#222" stroke="#222" stroke-width="0.2" >10</text>
<text x="320.96000000000004" y="490.2" font-size="9" text-anchor="middle" fill="#222" stroke="#222" stroke-width="0.2" >10</text>
<text x="334.18" y="490.2" font-size="9" text-anchor="middle" fill="#222" stroke="#222" stroke-width="0.2" >10</text>
<text x="347.40000000000003" y="490.2" font-size="9" text-anchor="middle" fill="#222" stroke="#222" stroke-width="0.2" >10</text>
<text x="360.62" y="490.2" font-size="9" text-anchor="middle" fill="#222" stroke="#222" stroke-width="0.2" >7</text>
<text x="373.84000000000003" y="490.2" font-size="9" text-anchor="middle" fill="#222" stroke="#222" stroke-width="0.2" >6</text>
<text x="387.06" y="490.2" font-size="9" text-anchor="middle" fill="#222" stroke="#222" stroke-width="0.2" >5</text>
<text x="400.28000000000003" y="490.2" font-size="9" text-anchor="middle" fill="#222" stroke="#222" stroke-width="0.2" >0</text>
<text x="8.7" y="515.0" font-size="12.5" text-anchor="start" fill="#000" stroke="#000" stroke-width="0.15" font-weight="bold" >C</text>
<line x1="78.6" y1="519.4" x2="78.6" y2="696.7" stroke="#111" stroke-width="1.3"/>
<line x1="75.2" y1="690.8" x2="78.6" y2="690.8" stroke="#111" stroke-width="1.2"/>
<text x="71.2" y="694.5" font-size="10.0" text-anchor="end" fill="#111" stroke="#111" stroke-width="0.2" textLength="13.07" lengthAdjust="spacingAndGlyphs" >0.0</text>
<line x1="75.2" y1="657.4" x2="78.6" y2="657.4" stroke="#111" stroke-width="1.2"/>
<text x="71.2" y="661.1" font-size="10.0" text-anchor="end" fill="#111" stroke="#111" stroke-width="0.2" textLength="13.07" lengthAdjust="spacingAndGlyphs" >0.2</text>
<line x1="75.2" y1="624.0" x2="78.6" y2="624.0" stroke="#111" stroke-width="1.2"/>
<text x="71.2" y="627.7" font-size="10.0" text-anchor="end" fill="#111" stroke="#111" stroke-width="0.2" textLength="13.07" lengthAdjust="spacingAndGlyphs" >0.4</text>
<line x1="75.2" y1="590.5999999999999" x2="78.6" y2="590.5999999999999" stroke="#111" stroke-width="1.2"/>
<text x="71.2" y="594.3" font-size="10.0" text-anchor="end" fill="#111" stroke="#111" stroke-width="0.2" textLength="13.07" lengthAdjust="spacingAndGlyphs" >0.6</text>
<line x1="75.2" y1="557.1999999999999" x2="78.6" y2="557.1999999999999" stroke="#111" stroke-width="1.2"/>
<text x="71.2" y="560.9" font-size="10.0" text-anchor="end" fill="#111" stroke="#111" stroke-width="0.2" textLength="13.07" lengthAdjust="spacingAndGlyphs" >0.8</text>
<line x1="75.2" y1="523.8" x2="78.6" y2="523.8" stroke="#111" stroke-width="1.2"/>
<text x="71.2" y="527.5" font-size="10.0" text-anchor="end" fill="#111" stroke="#111" stroke-width="0.2" textLength="13.07" lengthAdjust="spacingAndGlyphs" >1.0</text>
<line x1="77.9" y1="696.0" x2="510.8" y2="696.0" stroke="#111" stroke-width="1.4"/>
<line x1="83.0" y1="696.0" x2="83.0" y2="700.0" stroke="#111" stroke-width="1.1"/>
<text x="83.0" y="711.9" font-size="10.0" text-anchor="middle" fill="#111" stroke="#111" stroke-width="0.2" textLength="5.23" lengthAdjust="spacingAndGlyphs" >0</text>
<line x1="96.22" y1="696.0" x2="96.22" y2="700.0" stroke="#111" stroke-width="1.1"/>
<text x="96.22" y="711.9" font-size="10.0" text-anchor="middle" fill="#111" stroke="#111" stroke-width="0.2" textLength="5.23" lengthAdjust="spacingAndGlyphs" >1</text>
<line x1="109.44" y1="696.0" x2="109.44" y2="700.0" stroke="#111" stroke-width="1.1"/>
<text x="109.44" y="711.9" font-size="10.0" text-anchor="middle" fill="#111" stroke="#111" stroke-width="0.2" textLength="5.23" lengthAdjust="spacingAndGlyphs" >2</text>
<line x1="122.66" y1="696.0" x2="122.66" y2="700.0" stroke="#111" stroke-width="1.1"/>
<text x="122.66" y="711.9" font-size="10.0" text-anchor="middle" fill="#111" stroke="#111" stroke-width="0.2" textLength="5.23" lengthAdjust="spacingAndGlyphs" >3</text>
<line x1="135.88" y1="696.0" x2="135.88" y2="700.0" stroke="#111" stroke-width="1.1"/>
<text x="135.88" y="711.9" font-size="10.0" text-anchor="middle" fill="#111" stroke="#111" stroke-width="0.2" textLength="5.23" lengthAdjust="spacingAndGlyphs" >4</text>
<line x1="149.10000000000002" y1="696.0" x2="149.10000000000002" y2="700.0" stroke="#111" stroke-width="1.1"/>
<text x="149.10000000000002" y="711.9" font-size="10.0" text-anchor="middle" fill="#111" stroke="#111" stroke-width="0.2" textLength="5.23" lengthAdjust="spacingAndGlyphs" >5</text>
<line x1="162.32" y1="696.0" x2="162.32" y2="700.0" stroke="#111" stroke-width="1.1"/>
<text x="162.32" y="711.9" font-size="10.0" text-anchor="middle" fill="#111" stroke="#111" stroke-width="0.2" textLength="5.23" lengthAdjust="spacingAndGlyphs" >6</text>
<line x1="175.54000000000002" y1="696.0" x2="175.54000000000002" y2="700.0" stroke="#111" stroke-width="1.1"/>
<text x="175.54000000000002" y="711.9" font-size="10.0" text-anchor="middle" fill="#111" stroke="#111" stroke-width="0.2" textLength="5.23" lengthAdjust="spacingAndGlyphs" >7</text>
<line x1="188.76" y1="696.0" x2="188.76" y2="700.0" stroke="#111" stroke-width="1.1"/>
<text x="188.76" y="711.9" font-size="10.0" text-anchor="middle" fill="#111" stroke="#111" stroke-width="0.2" textLength="5.23" lengthAdjust="spacingAndGlyphs" >8</text>
<line x1="201.98000000000002" y1="696.0" x2="201.98000000000002" y2="700.0" stroke="#111" stroke-width="1.1"/>
<text x="201.98000000000002" y="711.9" font-size="10.0" text-anchor="middle" fill="#111" stroke="#111" stroke-width="0.2" textLength="5.23" lengthAdjust="spacingAndGlyphs" >9</text>
<line x1="215.20000000000002" y1="696.0" x2="215.20000000000002" y2="700.0" stroke="#111" stroke-width="1.1"/>
<text x="215.20000000000002" y="711.9" font-size="10.0" text-anchor="middle" fill="#111" stroke="#111" stroke-width="0.2" textLength="10.45" lengthAdjust="spacingAndGlyphs" >10</text>
<line x1="228.42000000000002" y1="696.0" x2="228.42000000000002" y2="700.0" stroke="#111" stroke-width="1.1"/>
<text x="228.42000000000002" y="711.9" font-size="10.0" text-anchor="middle" fill="#111" stroke="#111" stroke-width="0.2" textLength="9.76" lengthAdjust="spacingAndGlyphs" >11</text>
<line x1="241.64000000000001" y1="696.0" x2="241.64000000000001" y2="700.0" stroke="#111" stroke-width="1.1"/>
<text x="241.64000000000001" y="711.9" font-size="10.0" text-anchor="middle" fill="#111" stroke="#111" stroke-width="0.2" textLength="10.45" lengthAdjust="spacingAndGlyphs" >12</text>
<line x1="254.86" y1="696.0" x2="254.86" y2="700.0" stroke="#111" stroke-width="1.1"/>
<text x="254.86" y="711.9" font-size="10.0" text-anchor="middle" fill="#111" stroke="#111" stroke-width="0.2" textLength="10.45" lengthAdjust="spacingAndGlyphs" >13</text>
<line x1="268.08000000000004" y1="696.0" x2="268.08000000000004" y2="700.0" stroke="#111" stroke-width="1.1"/>
<text x="268.08000000000004" y="711.9" font-size="10.0" text-anchor="middle" fill="#111" stroke="#111" stroke-width="0.2" textLength="10.45" lengthAdjust="spacingAndGlyphs" >14</text>
<line x1="281.3" y1="696.0" x2="281.3" y2="700.0" stroke="#111" stroke-width="1.1"/>
<text x="281.3" y="711.9" font-size="10.0" text-anchor="middle" fill="#111" stroke="#111" stroke-width="0.2" textLength="10.45" lengthAdjust="spacingAndGlyphs" >15</text>
<line x1="294.52" y1="696.0" x2="294.52" y2="700.0" stroke="#111" stroke-width="1.1"/>
<text x="294.52" y="711.9" font-size="10.0" text-anchor="middle" fill="#111" stroke="#111" stroke-width="0.2" textLength="10.45" lengthAdjust="spacingAndGlyphs" >16</text>
<line x1="307.74" y1="696.0" x2="307.74" y2="700.0" stroke="#111" stroke-width="1.1"/>
<text x="307.74" y="711.9" font-size="10.0" text-anchor="middle" fill="#111" stroke="#111" stroke-width="0.2" textLength="10.45" lengthAdjust="spacingAndGlyphs" >17</text>
<line x1="320.96000000000004" y1="696.0" x2="320.96000000000004" y2="700.0" stroke="#111" stroke-width="1.1"/>
<text x="320.96000000000004" y="711.9" font-size="10.0" text-anchor="middle" fill="#111" stroke="#111" stroke-width="0.2" textLength="10.45" lengthAdjust="spacingAndGlyphs" >18</text>
<line x1="334.18" y1="696.0" x2="334.18" y2="700.0" stroke="#111" stroke-width="1.1"/>
<text x="334.18" y="711.9" font-size="10.0" text-anchor="middle" fill="#111" stroke="#111" stroke-width="0.2" textLength="10.45" lengthAdjust="spacingAndGlyphs" >19</text>
<line x1="347.40000000000003" y1="696.0" x2="347.40000000000003" y2="700.0" stroke="#111" stroke-width="1.1"/>
<text x="347.40000000000003" y="711.9" font-size="10.0" text-anchor="middle" fill="#111" stroke="#111" stroke-width="0.2" textLength="10.45" lengthAdjust="spacingAndGlyphs" >20</text>
<line x1="360.62" y1="696.0" x2="360.62" y2="700.0" stroke="#111" stroke-width="1.1"/>
<text x="360.62" y="711.9" font-size="10.0" text-anchor="middle" fill="#111" stroke="#111" stroke-width="0.2" textLength="10.45" lengthAdjust="spacingAndGlyphs" >21</text>
<line x1="373.84000000000003" y1="696.0" x2="373.84000000000003" y2="700.0" stroke="#111" stroke-width="1.1"/>
<text x="373.84000000000003" y="711.9" font-size="10.0" text-anchor="middle" fill="#111" stroke="#111" stroke-width="0.2" textLength="10.45" lengthAdjust="spacingAndGlyphs" >22</text>
<line x1="387.06" y1="696.0" x2="387.06" y2="700.0" stroke="#111" stroke-width="1.1"/>
<text x="387.06" y="711.9" font-size="10.0" text-anchor="middle" fill="#111" stroke="#111" stroke-width="0.2" textLength="10.45" lengthAdjust="spacingAndGlyphs" >23</text>
<line x1="400.28000000000003" y1="696.0" x2="400.28000000000003" y2="700.0" stroke="#111" stroke-width="1.1"/>
<text x="400.28000000000003" y="711.9" font-size="10.0" text-anchor="middle" fill="#111" stroke="#111" stroke-width="0.2" textLength="10.45" lengthAdjust="spacingAndGlyphs" >24</text>
<line x1="413.5" y1="696.0" x2="413.5" y2="700.0" stroke="#111" stroke-width="1.1"/>
<text x="413.5" y="711.9" font-size="10.0" text-anchor="middle" fill="#111" stroke="#111" stroke-width="0.2" textLength="10.45" lengthAdjust="spacingAndGlyphs" >25</text>
<line x1="426.72" y1="696.0" x2="426.72" y2="700.0" stroke="#111" stroke-width="1.1"/>
<text x="426.72" y="711.9" font-size="10.0" text-anchor="middle" fill="#111" stroke="#111" stroke-width="0.2" textLength="10.45" lengthAdjust="spacingAndGlyphs" >26</text>
<line x1="439.94" y1="696.0" x2="439.94" y2="700.0" stroke="#111" stroke-width="1.1"/>
<text x="439.94" y="711.9" font-size="10.0" text-anchor="middle" fill="#111" stroke="#111" stroke-width="0.2" textLength="10.45" lengthAdjust="spacingAndGlyphs" >27</text>
<line x1="453.16" y1="696.0" x2="453.16" y2="700.0" stroke="#111" stroke-width="1.1"/>
<text x="453.16" y="711.9" font-size="10.0" text-anchor="middle" fill="#111" stroke="#111" stroke-width="0.2" textLength="10.45" lengthAdjust="spacingAndGlyphs" >28</text>
<line x1="466.38" y1="696.0" x2="466.38" y2="700.0" stroke="#111" stroke-width="1.1"/>
<text x="466.38" y="711.9" font-size="10.0" text-anchor="middle" fill="#111" stroke="#111" stroke-width="0.2" textLength="10.45" lengthAdjust="spacingAndGlyphs" >29</text>
<line x1="479.6" y1="696.0" x2="479.6" y2="700.0" stroke="#111" stroke-width="1.1"/>
<text x="479.6" y="711.9" font-size="10.0" text-anchor="middle" fill="#111" stroke="#111" stroke-width="0.2" textLength="10.45" lengthAdjust="spacingAndGlyphs" >30</text>
<line x1="492.82" y1="696.0" x2="492.82" y2="700.0" stroke="#111" stroke-width="1.1"/>
<text x="492.82" y="711.9" font-size="10.0" text-anchor="middle" fill="#111" stroke="#111" stroke-width="0.2" textLength="10.45" lengthAdjust="spacingAndGlyphs" >31</text>
<line x1="506.04" y1="696.0" x2="506.04" y2="700.0" stroke="#111" stroke-width="1.1"/>
<text x="506.04" y="711.9" font-size="10.0" text-anchor="middle" fill="#111" stroke="#111" stroke-width="0.2" textLength="10.45" lengthAdjust="spacingAndGlyphs" >32</text>
<text x="294.6" y="726.7" font-size="10.5" text-anchor="middle" fill="#222" stroke="#222" stroke-width="0.2" textLength="53.2" lengthAdjust="spacingAndGlyphs" >Time, months</text>
<text x="51.9" y="607.3" font-size="10.5" text-anchor="middle" fill="#222" stroke="#222" stroke-width="0.2" textLength="60.6" lengthAdjust="spacingAndGlyphs" transform="rotate(-90 51.9 607.3)" >PFS probability</text>
<text x="82.6" y="685.4" font-size="9" text-anchor="start" fill="#222" stroke="#222" stroke-width="0.2" >+ Censored</text>
<path d="M83,523.8 H84.3 V525.9 H85.5 V527.1 H86.7 V528.3 H89 V530.4 H89.5 V532.3 H91.3 V534.4 H92.2 V536.6 H95.9 V538.7 H97 V540.9 H98.8 V542.1 H102.2 V543.8 H104.5 V546 H105.7 V548.2 H107.2 V550.3 H107.8 V554.2 H110.2 V556.2 H113.4 V558.4 H114.2 V560.5 H114.8 V562.6 H118.3 V564.8 H119.5 V567 H119.9 V569.2 H120.1 V571.3 H120.3 V573.5 H120.5 V575.7 H120.7 V577.8 H120.9 V580 H121.3 V582.2 H121.8 V584.3 H122.3 V586.5 H122.8 V588.7 H123.2 V590.8 H123.6 V593.5 H126.2 V595.7 H132.3 V597.9 H141.5 V600.3 H146.2 V602.5 H150.3 V604.8 H156.2 V607 H156.5 V609.2 H157.5 V611.3 H158.5 V612.6 H160.8 V614 H163.1 V615.9 H178.8 V618.3 H198.7 V620 H202.1 V622.3 H241.9 V624.6 H326.7 V627 H487" fill="none" stroke="#14528e" stroke-width="1.35" stroke-linejoin="miter"/>
<path d="M83,523.8 H100.7 V530.7 H106 V537.6 H112 V544.6 H117.2 V551.4 H122.3 V558.4 V565.3 H123.8 V572.3 H126.3 V579.2 H142 V586.2 H161.2 V593.1 H163.1 V600.2 H248.3 V607.2 H266.9 V614.2 H281.9 V621.4 H415.4" fill="none" stroke="#c8102e" stroke-width="1.35" stroke-linejoin="miter"/>
<line x1="387.3" y1="618.9" x2="387.3" y2="623.9" stroke="#c8102e" stroke-width="1.0"/>
<line x1="396.5" y1="618.9" x2="396.5" y2="623.9" stroke="#c8102e" stroke-width="1.0"/>
<line x1="397.7" y1="618.9" x2="397.7" y2="623.9" stroke="#c8102e" stroke-width="1.0"/>
<line x1="400.2" y1="618.9" x2="400.2" y2="623.9" stroke="#c8102e" stroke-width="1.0"/>
<line x1="403.1" y1="618.9" x2="403.1" y2="623.9" stroke="#c8102e" stroke-width="1.0"/>
<line x1="412.7" y1="618.9" x2="412.7" y2="623.9" stroke="#c8102e" stroke-width="1.0"/>
<line x1="118.0" y1="562.5" x2="118.0" y2="567.5" stroke="#14528e" stroke-width="1.0"/>
<line x1="255.4" y1="622.1" x2="255.4" y2="627.1" stroke="#14528e" stroke-width="1.0"/>
<line x1="280.6" y1="622.1" x2="280.6" y2="627.1" stroke="#14528e" stroke-width="1.0"/>
<line x1="386.5" y1="624.5" x2="386.5" y2="629.5" stroke="#14528e" stroke-width="1.0"/>
<line x1="390.4" y1="624.5" x2="390.4" y2="629.5" stroke="#14528e" stroke-width="1.0"/>
<line x1="393.8" y1="624.5" x2="393.8" y2="629.5" stroke="#14528e" stroke-width="1.0"/>
<line x1="396.9" y1="624.5" x2="396.9" y2="629.5" stroke="#14528e" stroke-width="1.0"/>
<line x1="398.1" y1="624.5" x2="398.1" y2="629.5" stroke="#14528e" stroke-width="1.0"/>
<line x1="399.2" y1="624.5" x2="399.2" y2="629.5" stroke="#14528e" stroke-width="1.0"/>
<line x1="401.5" y1="624.5" x2="401.5" y2="629.5" stroke="#14528e" stroke-width="1.0"/>
<line x1="402.7" y1="624.5" x2="402.7" y2="629.5" stroke="#14528e" stroke-width="1.0"/>
<line x1="409.2" y1="624.5" x2="409.2" y2="629.5" stroke="#14528e" stroke-width="1.0"/>
<line x1="413.1" y1="624.5" x2="413.1" y2="629.5" stroke="#14528e" stroke-width="1.0"/>
<line x1="477.9" y1="624.5" x2="477.9" y2="629.5" stroke="#14528e" stroke-width="1.0"/>
<line x1="481.7" y1="624.5" x2="481.7" y2="629.5" stroke="#14528e" stroke-width="1.0"/>
<line x1="484.4" y1="624.5" x2="484.4" y2="629.5" stroke="#14528e" stroke-width="1.0"/>
<rect x="352.7" y="526.3" width="150.8" height="43.10000000000002" fill="#fff" stroke="#222" stroke-width="1.2"/>
<line x1="352.7" y1="540.3" x2="503.5" y2="540.3" stroke="#222" stroke-width="1.2"/>
<line x1="352.7" y1="555.2" x2="503.5" y2="555.2" stroke="#222" stroke-width="1.2"/>
<line x1="405.1" y1="526.3" x2="405.1" y2="569.4" stroke="#222" stroke-width="1.2"/>
<text x="454.3" y="535.9" font-size="9" text-anchor="middle" fill="#111" stroke="#111" stroke-width="0.15" font-weight="bold" >Median PFS (95% CI)</text>
<text x="454.3" y="549.8" font-size="9" text-anchor="middle" fill="#222" stroke="#222" stroke-width="0.2" >13.2 months (3.1-NE)</text>
<text x="454.3" y="564.2" font-size="9" text-anchor="middle" fill="#222" stroke="#222" stroke-width="0.2" >5.6 months (3.1-18.4)</text>
<text x="378.9" y="549.8" font-size="9" text-anchor="middle" fill="#c8102e" stroke="#c8102e" stroke-width="0.15" font-weight="bold" >Age ≥65 y</text>
<text x="378.9" y="564.2" font-size="9" text-anchor="middle" fill="#14528e" stroke="#14528e" stroke-width="0.15" font-weight="bold" >Age &lt;65 y</text>
<text x="8.5" y="740.7" font-size="8.8" text-anchor="start" fill="#000" stroke="#000" stroke-width="0.15" font-weight="bold" >Patients at risk</text>
<text x="70.9" y="754.5" font-size="9" text-anchor="end" fill="#14528e" stroke="#14528e" stroke-width="0.15" font-weight="bold" >Age &lt; 65</text>
<text x="70.9" y="767.8000000000001" font-size="9" text-anchor="end" fill="#c8102e" stroke="#c8102e" stroke-width="0.15" font-weight="bold" >Age ≥ 65</text>
<text x="83.0" y="754.5" font-size="9" text-anchor="middle" fill="#222" stroke="#222" stroke-width="0.2" >77</text>
<text x="96.22" y="754.5" font-size="9" text-anchor="middle" fill="#222" stroke="#222" stroke-width="0.2" >71</text>
<text x="109.44" y="754.5" font-size="9" text-anchor="middle" fill="#222" stroke="#222" stroke-width="0.2" >63</text>
<text x="122.66" y="754.5" font-size="9" text-anchor="middle" fill="#222" stroke="#222" stroke-width="0.2" >48</text>
<text x="135.88" y="754.5" font-size="9" text-anchor="middle" fill="#222" stroke="#222" stroke-width="0.2" >42</text>
<text x="149.10000000000002" y="754.5" font-size="9" text-anchor="middle" fill="#222" stroke="#222" stroke-width="0.2" >40</text>
<text x="162.32" y="754.5" font-size="9" text-anchor="middle" fill="#222" stroke="#222" stroke-width="0.2" >35</text>
<text x="175.54000000000002" y="754.5" font-size="9" text-anchor="middle" fill="#222" stroke="#222" stroke-width="0.2" >34</text>
<text x="188.76" y="754.5" font-size="9" text-anchor="middle" fill="#222" stroke="#222" stroke-width="0.2" >33</text>
<text x="201.98000000000002" y="754.5" font-size="9" text-anchor="middle" fill="#222" stroke="#222" stroke-width="0.2" >32</text>
<text x="215.20000000000002" y="754.5" font-size="9" text-anchor="middle" fill="#222" stroke="#222" stroke-width="0.2" >31</text>
<text x="228.42000000000002" y="754.5" font-size="9" text-anchor="middle" fill="#222" stroke="#222" stroke-width="0.2" >31</text>
<text x="241.64000000000001" y="754.5" font-size="9" text-anchor="middle" fill="#222" stroke="#222" stroke-width="0.2" >31</text>
<text x="254.86" y="754.5" font-size="9" text-anchor="middle" fill="#222" stroke="#222" stroke-width="0.2" >30</text>
<text x="268.08000000000004" y="754.5" font-size="9" text-anchor="middle" fill="#222" stroke="#222" stroke-width="0.2" >29</text>
<text x="281.3" y="754.5" font-size="9" text-anchor="middle" fill="#222" stroke="#222" stroke-width="0.2" >27</text>
<text x="294.52" y="754.5" font-size="9" text-anchor="middle" fill="#222" stroke="#222" stroke-width="0.2" >27</text>
<text x="307.74" y="754.5" font-size="9" text-anchor="middle" fill="#222" stroke="#222" stroke-width="0.2" >27</text>
<text x="320.96000000000004" y="754.5" font-size="9" text-anchor="middle" fill="#222" stroke="#222" stroke-width="0.2" >27</text>
<text x="334.18" y="754.5" font-size="9" text-anchor="middle" fill="#222" stroke="#222" stroke-width="0.2" >26</text>
<text x="347.40000000000003" y="754.5" font-size="9" text-anchor="middle" fill="#222" stroke="#222" stroke-width="0.2" >26</text>
<text x="360.62" y="754.5" font-size="9" text-anchor="middle" fill="#222" stroke="#222" stroke-width="0.2" >26</text>
<text x="373.84000000000003" y="754.5" font-size="9" text-anchor="middle" fill="#222" stroke="#222" stroke-width="0.2" >26</text>
<text x="387.06" y="754.5" font-size="9" text-anchor="middle" fill="#222" stroke="#222" stroke-width="0.2" >25</text>
<text x="400.28000000000003" y="754.5" font-size="9" text-anchor="middle" fill="#222" stroke="#222" stroke-width="0.2" >16</text>
<text x="413.5" y="754.5" font-size="9" text-anchor="middle" fill="#222" stroke="#222" stroke-width="0.2" >3</text>
<text x="426.72" y="754.5" font-size="9" text-anchor="middle" fill="#222" stroke="#222" stroke-width="0.2" >3</text>
<text x="439.94" y="754.5" font-size="9" text-anchor="middle" fill="#222" stroke="#222" stroke-width="0.2" >3</text>
<text x="453.16" y="754.5" font-size="9" text-anchor="middle" fill="#222" stroke="#222" stroke-width="0.2" >3</text>
<text x="466.38" y="754.5" font-size="9" text-anchor="middle" fill="#222" stroke="#222" stroke-width="0.2" >3</text>
<text x="479.6" y="754.5" font-size="9" text-anchor="middle" fill="#222" stroke="#222" stroke-width="0.2" >2</text>
<text x="492.82" y="754.5" font-size="9" text-anchor="middle" fill="#222" stroke="#222" stroke-width="0.2" >0</text>
<text x="83.0" y="767.7" font-size="9" text-anchor="middle" fill="#222" stroke="#222" stroke-width="0.2" >24</text>
<text x="96.22" y="767.7" font-size="9" text-anchor="middle" fill="#222" stroke="#222" stroke-width="0.2" >24</text>
<text x="109.44" y="767.7" font-size="9" text-anchor="middle" fill="#222" stroke="#222" stroke-width="0.2" >22</text>
<text x="122.66" y="767.7" font-size="9" text-anchor="middle" fill="#222" stroke="#222" stroke-width="0.2" >18</text>
<text x="135.88" y="767.7" font-size="9" text-anchor="middle" fill="#222" stroke="#222" stroke-width="0.2" >16</text>
<text x="149.10000000000002" y="767.7" font-size="9" text-anchor="middle" fill="#222" stroke="#222" stroke-width="0.2" >15</text>
<text x="162.32" y="767.7" font-size="9" text-anchor="middle" fill="#222" stroke="#222" stroke-width="0.2" >14</text>
<text x="175.54000000000002" y="767.7" font-size="9" text-anchor="middle" fill="#222" stroke="#222" stroke-width="0.2" >13</text>
<text x="188.76" y="767.7" font-size="9" text-anchor="middle" fill="#222" stroke="#222" stroke-width="0.2" >13</text>
<text x="201.98000000000002" y="767.7" font-size="9" text-anchor="middle" fill="#222" stroke="#222" stroke-width="0.2" >13</text>
<text x="215.20000000000002" y="767.7" font-size="9" text-anchor="middle" fill="#222" stroke="#222" stroke-width="0.2" >13</text>
<text x="228.42000000000002" y="767.7" font-size="9" text-anchor="middle" fill="#222" stroke="#222" stroke-width="0.2" >13</text>
<text x="241.64000000000001" y="767.7" font-size="9" text-anchor="middle" fill="#222" stroke="#222" stroke-width="0.2" >13</text>
<text x="254.86" y="767.7" font-size="9" text-anchor="middle" fill="#222" stroke="#222" stroke-width="0.2" >12</text>
<text x="268.08000000000004" y="767.7" font-size="9" text-anchor="middle" fill="#222" stroke="#222" stroke-width="0.2" >11</text>
<text x="281.3" y="767.7" font-size="9" text-anchor="middle" fill="#222" stroke="#222" stroke-width="0.2" >11</text>
<text x="294.52" y="767.7" font-size="9" text-anchor="middle" fill="#222" stroke="#222" stroke-width="0.2" >10</text>
<text x="307.74" y="767.7" font-size="9" text-anchor="middle" fill="#222" stroke="#222" stroke-width="0.2" >10</text>
<text x="320.96000000000004" y="767.7" font-size="9" text-anchor="middle" fill="#222" stroke="#222" stroke-width="0.2" >10</text>
<text x="334.18" y="767.7" font-size="9" text-anchor="middle" fill="#222" stroke="#222" stroke-width="0.2" >10</text>
<text x="347.40000000000003" y="767.7" font-size="9" text-anchor="middle" fill="#222" stroke="#222" stroke-width="0.2" >10</text>
<text x="360.62" y="767.7" font-size="9" text-anchor="middle" fill="#222" stroke="#222" stroke-width="0.2" >10</text>
<text x="373.84000000000003" y="767.7" font-size="9" text-anchor="middle" fill="#222" stroke="#222" stroke-width="0.2" >10</text>
<text x="387.06" y="767.7" font-size="9" text-anchor="middle" fill="#222" stroke="#222" stroke-width="0.2" >9</text>
<text x="400.28000000000003" y="767.7" font-size="9" text-anchor="middle" fill="#222" stroke="#222" stroke-width="0.2" >5</text>
<text x="413.5" y="767.7" font-size="9" text-anchor="middle" fill="#222" stroke="#222" stroke-width="0.2" >0</text>
<rect x="0.75" y="0.75" width="518.5" height="776.5" fill="none" stroke="#000" stroke-width="1.5"/>
</svg>
</body></html>
